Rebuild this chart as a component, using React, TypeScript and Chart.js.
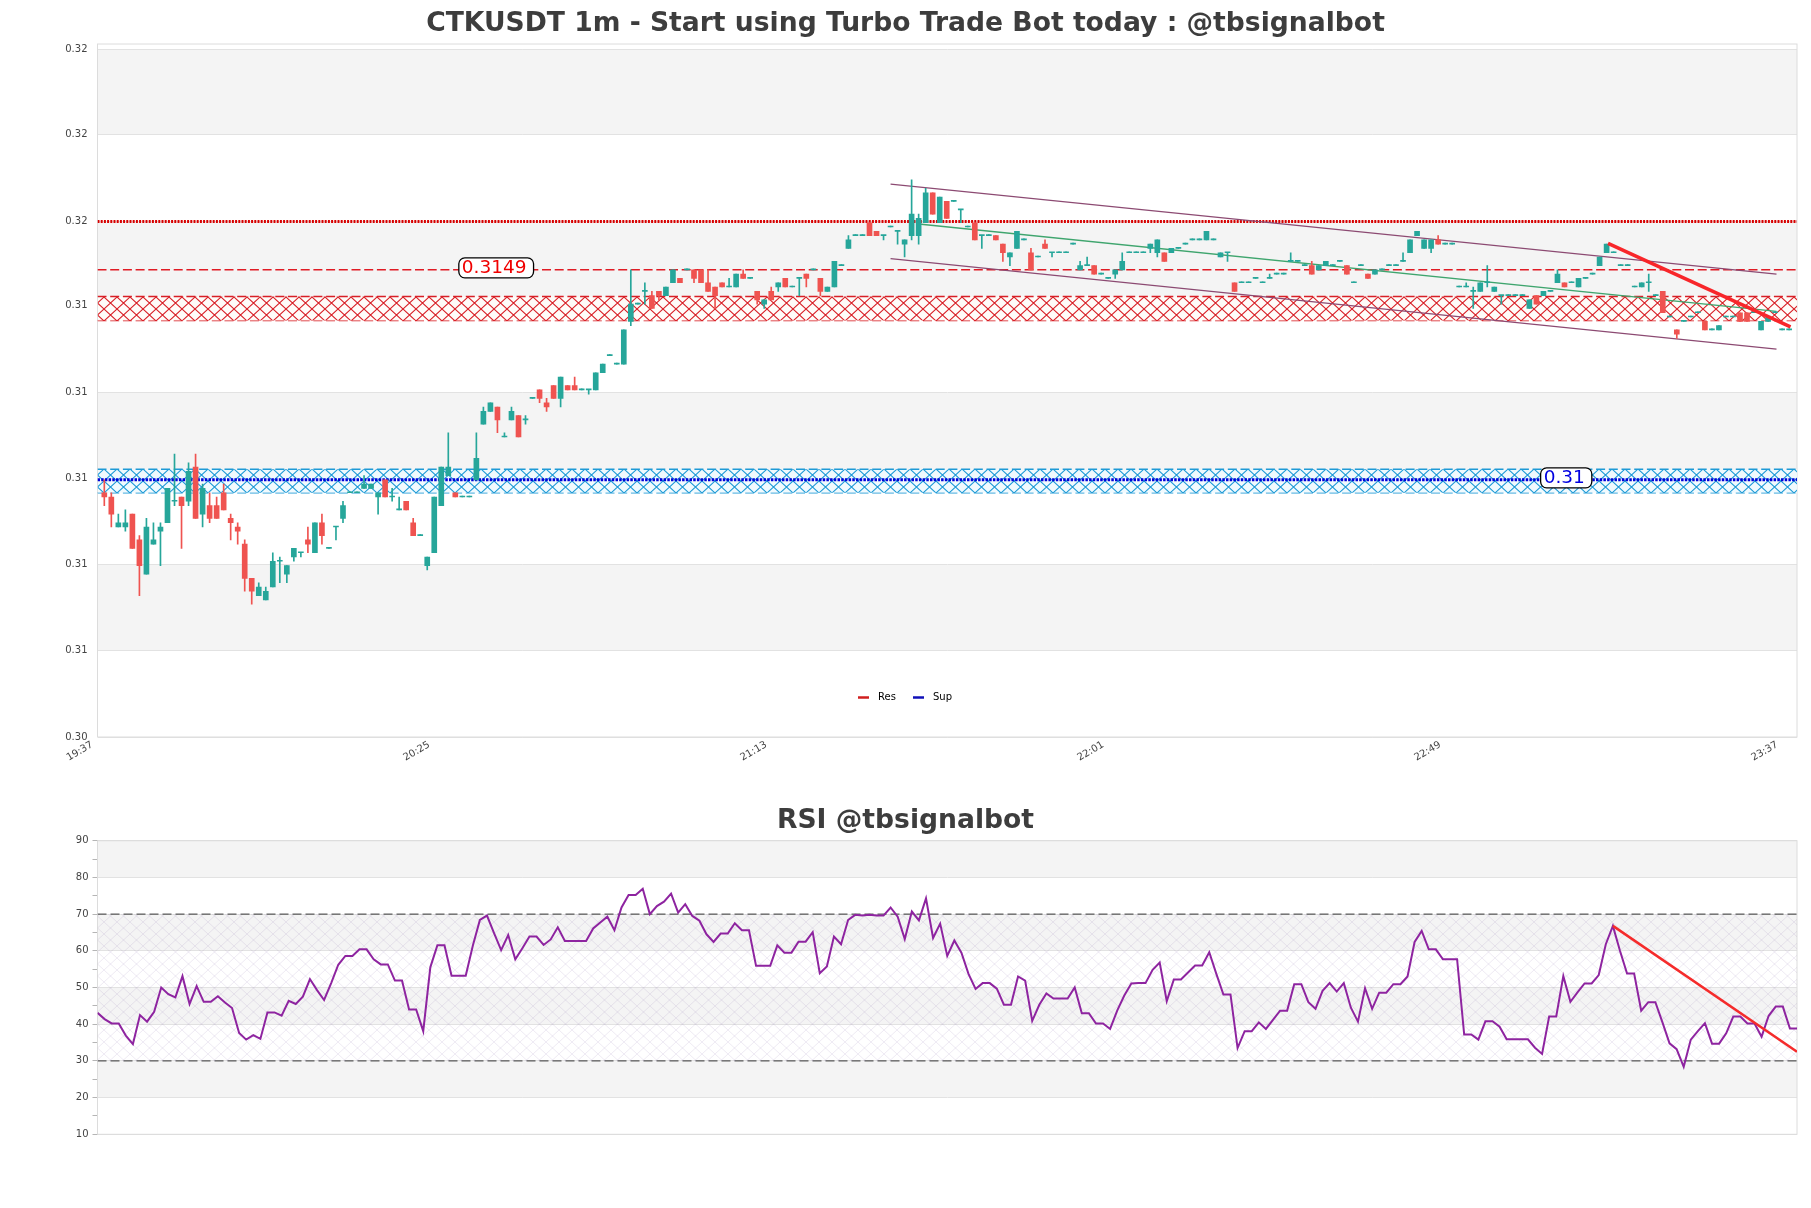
import { useEffect, useRef } from "react"
import { Chart, registerables } from "chart.js"

Chart.register(...registerables)

const FONT = "'DejaVu Sans', sans-serif"
const UP = "#26a69a"
const DOWN = "#ef5350"

const timeLabels = ["19:37", "20:25", "21:13", "22:01", "22:49", "23:37"]
const timeTicks = [0, 48, 96, 144, 192, 240]
// tick values only show 2 decimals on the picture, these are estimated
const priceTicks = [0.304, 0.30601, 0.30802, 0.31003, 0.31203, 0.31406, 0.31604, 0.31805, 0.32005]
const priceBands = [[0.30601, 0.30802], [0.31003, 0.31203], [0.31406, 0.31604], [0.31805, 0.32005]]
const rsiTicks = [10, 15, 20, 25, 30, 35, 40, 45, 50, 55, 60, 65, 70, 75, 80, 85, 90]
const rsiBands = [[20, 30], [40, 50], [60, 70], [80, 90]]

const candleOpen = [
  .3097, .3096, .3089, .3089, .3092, .3086, .3078, .3085, .3088, .3090,
  .3095, .3096, .3095, .3103, .3092, .3094, .3094, .3097, .3091, .3089,
  .3085, .3077, .3073, .3072, .3075, .3081, .3078, .3082, .3083, .3086,
  .3083, .3090, .3084, .3089, .3091, .3097, .3097, .3098, .3098, .3096,
  .3100, .3096, .3093, .3095, .3090, .3087, .3080, .3083, .3094, .3101,
  .3097, .3096, .3096, .3100, .3113, .3116, .3117, .3110, .3114, .3115,
  .3114, .3119, .3121, .3118, .3122, .3119, .3122, .3122, .3121, .3121,
  .3121, .3125, .3129, .3127, .3127, .3137, .3141, .3144, .3143, .3144,
  .3143, .3146, .3147, .3149, .3149, .3149, .3146, .3145, .3146, .3145,
  .3145, .3148, .3147, .3144, .3141, .3144, .3145, .3147, .3145, .3147,
  .3148, .3149, .3147, .3144, .3145, .3150, .3154, .3157, .3157, .3160,
  .3158, .3157, .3159, .3158, .3155, .3157, .3157, .3160, .3167, .3160,
  .3165, .3165, .3163, .3159, .3160, .3157, .3157, .3157, .3155, .3152,
  .3154, .3156, .3153, .3152, .3155, .3153, .3153, .3153, .3155, .3149,
  .3150, .3150, .3148, .3147, .3148, .3149, .3153, .3153, .3153, .3154,
  .3153, .3153, .3153, .3154, .3155, .3156, .3156, .3156, .3156, .3152,
  .3153, .3146, .3146, .3146, .3147, .3146, .3147, .3148, .3148, .3151,
  .3151, .3150, .3150, .3149, .3150, .3150, .3151, .3150, .3146, .3150,
  .3148, .3148, .3149, .3150, .3150, .3151, .3153, .3157, .3154, .3154,
  .3156, .3155, .3155, .3145, .3145, .3144, .3144, .3146, .3144, .3143,
  .3143, .3143, .3143, .3140, .3143, .3143, .3144, .3146, .3146, .3146,
  .3145, .3147, .3148, .3150, .3153, .3153, .3150, .3150, .3145, .3145,
  .3146, .3143, .3144, .3138, .3135, .3137, .3138, .3139, .3137, .3135,
  .3135, .3138, .3138, .3139, .3139, .3139, .3135, .3137, .3139, .3135,
  .3135,
]

const candleHigh = [
  .3100, .3097, .3092, .3093, .3092, .3087, .3091, .3090, .3090, .3098,
  .3106, .3096, .3104, .3106, .3099, .3097, .3096, .3099, .3092, .3090,
  .3086, .3077, .3076, .3075, .3083, .3082, .3080, .3084, .3083, .3089,
  .3090, .3092, .3084, .3089, .3095, .3097, .3097, .3101, .3099, .3097,
  .3100, .3098, .3096, .3095, .3091, .3087, .3082, .3096, .3103, .3111,
  .3097, .3096, .3096, .3111, .3117, .3118, .3117, .3111, .3117, .3115,
  .3115, .3119, .3121, .3119, .3122, .3124, .3122, .3124, .3121, .3121,
  .3125, .3127, .3129, .3127, .3135, .3149, .3141, .3146, .3144, .3144,
  .3145, .3149, .3147, .3149, .3149, .3149, .3149, .3145, .3146, .3147,
  .3148, .3149, .3147, .3144, .3142, .3145, .3146, .3147, .3145, .3147,
  .3148, .3149, .3147, .3145, .3151, .3150, .3157, .3157, .3157, .3160,
  .3158, .3157, .3159, .3158, .3156, .3170, .3162, .3168, .3167, .3166,
  .3165, .3165, .3163, .3159, .3160, .3157, .3157, .3157, .3155, .3153,
  .3158, .3156, .3154, .3152, .3156, .3153, .3153, .3153, .3155, .3151,
  .3152, .3150, .3148, .3147, .3149, .3153, .3153, .3153, .3153, .3155,
  .3156, .3153, .3154, .3154, .3155, .3156, .3156, .3158, .3156, .3153,
  .3153, .3146, .3146, .3146, .3147, .3146, .3148, .3148, .3148, .3153,
  .3151, .3150, .3151, .3150, .3151, .3150, .3151, .3150, .3146, .3150,
  .3148, .3149, .3149, .3150, .3150, .3153, .3156, .3158, .3156, .3156,
  .3157, .3155, .3155, .3145, .3146, .3145, .3146, .3150, .3145, .3143,
  .3143, .3143, .3143, .3142, .3143, .3144, .3144, .3149, .3146, .3146,
  .3147, .3147, .3148, .3152, .3155, .3153, .3150, .3150, .3145, .3146,
  .3148, .3143, .3144, .3138, .3135, .3137, .3138, .3139, .3137, .3135,
  .3136, .3138, .3138, .3139, .3139, .3139, .3137, .3138, .3139, .3135,
  .3135,
]

const candleLow = [
  .3094, .3089, .3089, .3088, .3084, .3073, .3078, .3085, .3080, .3090,
  .3094, .3084, .3094, .3091, .3089, .3090, .3091, .3093, .3086, .3085,
  .3074, .3071, .3073, .3072, .3075, .3076, .3076, .3081, .3082, .3083,
  .3083, .3085, .3084, .3086, .3090, .3097, .3097, .3098, .3098, .3092,
  .3096, .3095, .3093, .3093, .3087, .3087, .3079, .3083, .3094, .3101,
  .3096, .3096, .3096, .3100, .3113, .3116, .3111, .3110, .3114, .3110,
  .3113, .3119, .3118, .3116, .3119, .3117, .3121, .3121, .3121, .3120,
  .3121, .3125, .3129, .3127, .3127, .3136, .3141, .3141, .3140, .3142,
  .3143, .3146, .3146, .3149, .3146, .3146, .3144, .3140, .3145, .3145,
  .3145, .3147, .3147, .3141, .3140, .3142, .3144, .3145, .3145, .3143,
  .3145, .3149, .3143, .3144, .3145, .3150, .3154, .3157, .3157, .3157,
  .3157, .3156, .3159, .3155, .3152, .3156, .3155, .3160, .3162, .3160,
  .3161, .3165, .3160, .3159, .3156, .3154, .3157, .3156, .3151, .3150,
  .3154, .3156, .3149, .3152, .3154, .3152, .3153, .3153, .3155, .3149,
  .3150, .3148, .3148, .3147, .3147, .3149, .3153, .3153, .3153, .3153,
  .3152, .3151, .3153, .3154, .3155, .3156, .3156, .3156, .3156, .3152,
  .3151, .3144, .3146, .3146, .3147, .3146, .3147, .3148, .3148, .3151,
  .3151, .3150, .3148, .3149, .3150, .3150, .3151, .3148, .3146, .3150,
  .3147, .3148, .3149, .3150, .3150, .3151, .3153, .3157, .3154, .3153,
  .3155, .3155, .3155, .3145, .3145, .3140, .3144, .3145, .3144, .3141,
  .3143, .3143, .3143, .3140, .3141, .3143, .3144, .3146, .3145, .3146,
  .3145, .3147, .3148, .3150, .3153, .3153, .3150, .3150, .3145, .3145,
  .3144, .3143, .3139, .3138, .3133, .3137, .3138, .3139, .3135, .3135,
  .3135, .3138, .3138, .3137, .3137, .3139, .3135, .3137, .3139, .3135,
  .3135,
]

const candleClose = [
  .3096, .3092, .3090, .3090, .3084, .3080, .3089, .3086, .3089, .3098,
  .3095, .3094, .3102, .3091, .3098, .3091, .3091, .3093, .3090, .3088,
  .3077, .3074, .3075, .3074, .3081, .3081, .3080, .3084, .3083, .3085,
  .3090, .3087, .3084, .3089, .3094, .3097, .3097, .3099, .3099, .3097,
  .3096, .3096, .3093, .3093, .3087, .3087, .3082, .3096, .3103, .3103,
  .3096, .3096, .3096, .3105, .3116, .3118, .3114, .3110, .3116, .3110,
  .3114, .3119, .3119, .3117, .3119, .3124, .3121, .3121, .3121, .3121,
  .3125, .3127, .3129, .3127, .3135, .3141, .3141, .3144, .3140, .3143,
  .3145, .3149, .3146, .3149, .3147, .3146, .3144, .3143, .3145, .3145,
  .3148, .3147, .3147, .3142, .3142, .3142, .3146, .3145, .3145, .3147,
  .3147, .3149, .3144, .3145, .3151, .3150, .3156, .3157, .3157, .3157,
  .3157, .3157, .3159, .3158, .3156, .3162, .3161, .3167, .3162, .3166,
  .3161, .3165, .3163, .3159, .3156, .3157, .3157, .3156, .3153, .3153,
  .3158, .3156, .3149, .3152, .3154, .3153, .3153, .3153, .3155, .3150,
  .3150, .3148, .3148, .3147, .3149, .3151, .3153, .3153, .3153, .3155,
  .3156, .3151, .3154, .3154, .3155, .3156, .3156, .3158, .3156, .3153,
  .3153, .3144, .3146, .3146, .3147, .3146, .3147, .3148, .3148, .3151,
  .3151, .3150, .3148, .3150, .3151, .3150, .3151, .3148, .3146, .3150,
  .3147, .3149, .3149, .3150, .3150, .3151, .3156, .3158, .3156, .3156,
  .3155, .3155, .3155, .3145, .3145, .3144, .3146, .3146, .3145, .3143,
  .3143, .3143, .3143, .3142, .3141, .3144, .3144, .3148, .3145, .3146,
  .3147, .3147, .3148, .3152, .3155, .3153, .3150, .3150, .3145, .3146,
  .3146, .3143, .3139, .3138, .3134, .3137, .3138, .3139, .3135, .3135,
  .3136, .3138, .3138, .3137, .3137, .3139, .3137, .3138, .3139, .3135,
  .3135,
]

const rsiValues = [
  43.1, 41.4, 40.2, 40.2, 36.9, 34.6, 42.5, 40.7, 43.4, 50.0,
  48.2, 47.3, 53.1, 45.5, 50.4, 46.1, 46.1, 47.6, 45.9, 44.4,
  37.6, 35.8, 37.0, 36.0, 43.2, 43.2, 42.3, 46.4, 45.5, 47.5,
  52.3, 49.3, 46.6, 51.2, 56.2, 58.6, 58.6, 60.4, 60.4, 57.7,
  56.3, 56.3, 51.9, 51.9, 44.0, 44.0, 38.1, 55.5, 61.5, 61.5,
  53.2, 53.2, 53.2, 61.4, 68.4, 69.6, 64.8, 60.2, 64.3, 57.7,
  60.7, 63.9, 63.9, 61.6, 63.1, 66.4, 62.7, 62.7, 62.7, 62.7,
  66.1, 67.7, 69.3, 65.6, 71.8, 75.2, 75.2, 76.9, 70.0, 72.2,
  73.4, 75.6, 70.4, 72.7, 69.5, 68.2, 64.5, 62.4, 64.7, 64.7,
  67.5, 65.6, 65.6, 55.9, 55.9, 55.9, 61.5, 59.5, 59.5, 62.5,
  62.5, 65.1, 53.9, 55.7, 63.9, 61.8, 68.4, 69.8, 69.6, 69.8,
  69.6, 69.6, 71.8, 69.3, 63.2, 70.7, 68.3, 74.3, 63.5, 67.4,
  58.6, 62.8, 59.5, 53.7, 49.6, 51.2, 51.2, 49.7, 45.3, 45.3,
  53.0, 51.9, 40.9, 45.3, 48.4, 47.0, 47.0, 47.0, 50.0, 43.0,
  43.0, 40.2, 40.2, 38.7, 43.7, 47.8, 51.1, 51.2, 51.2, 54.8,
  56.8, 46.3, 52.2, 52.2, 54.1, 56.0, 56.0, 59.6, 53.7, 48.1,
  48.1, 33.5, 38.1, 38.1, 40.5, 38.7, 41.2, 43.7, 43.7, 50.9,
  50.9, 46.0, 44.2, 49.1, 51.2, 48.9, 51.2, 44.5, 40.7, 49.8,
  44.2, 48.6, 48.6, 50.9, 50.9, 53.0, 62.4, 65.4, 60.4, 60.4,
  57.7, 57.7, 57.7, 37.2, 37.2, 35.8, 40.8, 40.8, 39.3, 35.9,
  35.9, 35.9, 35.9, 33.6, 31.9, 42.1, 42.1, 53.1, 46.1, 48.7,
  51.1, 51.1, 53.4, 61.8, 66.8, 60.0, 53.8, 53.8, 43.7, 46.0,
  46.0, 40.5, 34.8, 33.2, 28.4, 35.8, 38.1, 40.3, 34.7, 34.7,
  37.5, 42.1, 42.1, 40.2, 40.2, 36.6, 42.3, 44.8, 44.8, 38.8,
  38.8,
]

// horizontal levels
const resistanceLevel = 0.3149
const resistanceTop = 0.31603
const resistanceZone = [0.31428, 0.31372]
const supportLevel = 0.31
const supportZone = [0.31025, 0.3097]

// trend lines as [candle index, price]
const channelUpper = [[112.0, 0.3169], [238.2, 0.3148]]
const channelLower = [[112.0, 0.31516], [238.2, 0.31305]]
const channelMiddle = [[116.0, 0.31597], [238.2, 0.31393]]
const priceTrend = [[214.2, 0.31552], [240.2, 0.31357]]
const rsiTrend = [[214, 66.8], [240, 32.5]]

const X_MIN = -0.97
const X_MAX = 241.12

function makeHatch(ctx: CanvasRenderingContext2D, stroke: string, bg: string, width: number, phaseY: number) {
  const tile = document.createElement("canvas")
  tile.width = 13
  tile.height = 12
  const t = tile.getContext("2d")!
  if (bg) {
    t.fillStyle = bg
    t.fillRect(0, 0, 13, 12)
  }
  t.strokeStyle = stroke
  t.lineWidth = width
  t.beginPath()
  t.moveTo(0, 0)
  t.lineTo(13, 12)
  t.moveTo(13, 0)
  t.lineTo(0, 12)
  t.stroke()
  const pattern = ctx.createPattern(tile, "repeat")!
  pattern.setTransform(new DOMMatrix([1, 0, 0, 1, 0, phaseY]))
  return pattern
}

function toPoints(line: number[][]) {
  return line.map(([x, y]) => ({ x, y }))
}

function level(y: number, xMin = X_MIN, xMax = X_MAX) {
  return [{ x: xMin, y }, { x: xMax, y }]
}

// striped background between grid lines
const bandsPlugin = (bands: number[][]) => ({
  id: "bands",
  beforeDraw(chart: any) {
    const { ctx, chartArea, scales } = chart
    ctx.save()
    ctx.fillStyle = "#f4f4f4"
    bands.forEach(([lo, hi]) => {
      const top = scales.y.getPixelForValue(hi)
      const bottom = scales.y.getPixelForValue(lo)
      ctx.fillRect(chartArea.left, top, chartArea.right - chartArea.left, bottom - top)
    })
    ctx.restore()
  },
  beforeDatasetsDraw(chart: any) {
    const { ctx, chartArea } = chart
    ctx.save()
    ctx.strokeStyle = "#dcdcdc"
    ctx.lineWidth = 1
    ctx.strokeRect(chartArea.left, chartArea.top, chartArea.right - chartArea.left, chartArea.bottom - chartArea.top)
    ctx.restore()
  },
})

function drawPill(chart: any, text: string, color: string, index: number, price: number) {
  const { ctx, scales } = chart
  const x = scales.x.getPixelForValue(index)
  const y = scales.y.getPixelForValue(price) - 2
  ctx.save()
  ctx.font = `18.5px ${FONT}`
  const w = ctx.measureText(text).width + 10
  ctx.beginPath()
  ctx.roundRect(x, y - 10, w, 20, 6)
  ctx.fillStyle = "#fff"
  ctx.fill()
  ctx.strokeStyle = "#000"
  ctx.lineWidth = 1.3
  ctx.stroke()
  ctx.fillStyle = color
  ctx.textBaseline = "middle"
  ctx.fillText(text, x + 3, y + 0.5)
  ctx.restore()
}

const overlayPlugin = {
  id: "overlay",
  afterDraw(chart: any) {
    const { ctx } = chart
    drawPill(chart, "0.3149", "#f00000", 50.5, resistanceLevel)
    drawPill(chart, "0.31", "#0000e0", 204.6, supportLevel)
    // legend sits inside the plot, near the bottom
    ctx.save()
    ctx.lineWidth = 2.5
    ctx.strokeStyle = "#d01f1f"
    ctx.beginPath()
    ctx.moveTo(858, 697.5)
    ctx.lineTo(869, 697.5)
    ctx.stroke()
    ctx.strokeStyle = "#1010b8"
    ctx.beginPath()
    ctx.moveTo(913, 697.5)
    ctx.lineTo(924, 697.5)
    ctx.stroke()
    ctx.fillStyle = "#000"
    ctx.font = `10px ${FONT}`
    ctx.textBaseline = "middle"
    ctx.fillText("Res", 878, 697)
    ctx.fillText("Sup", 933, 697)
    ctx.restore()
  },
}

function PriceChart() {
  const ref = useRef<HTMLCanvasElement>(null)

  useEffect(() => {
    if (!ref.current) return
    const ctx = ref.current.getContext("2d")
    if (!ctx) return

    const redHatch = makeHatch(ctx, "#d81f26", "rgba(255,252,248,0.9)", 1.1, 9)
    const blueHatch = makeHatch(ctx, "#1e9ad6", "rgba(240,250,254,0.9)", 1.1, 1)
    const colors = candleOpen.map((o, i) => (candleClose[i] >= o ? UP : DOWN))

    const chart = new Chart(ctx, {
      type: "bar",
      data: {
        datasets: [
          {
            label: "body",
            data: candleOpen.map((o, i) => ({ x: i, y: [o, candleClose[i]] })),
            backgroundColor: colors,
            barThickness: 5,
            minBarLength: 1,
            grouped: false,
            order: 2,
          },
          {
            label: "wick",
            data: candleLow.map((l, i) => ({ x: i, y: [l, candleHigh[i]] })),
            backgroundColor: colors,
            barThickness: 1,
            minBarLength: 1,
            grouped: false,
            order: 3,
          },
          {
            type: "line",
            label: "Trend",
            data: toPoints(priceTrend),
            borderColor: "#f8262a",
            borderWidth: 3.5,
            pointRadius: 0,
            order: 1,
          },
          {
            type: "line",
            label: "Channel up",
            data: toPoints(channelUpper),
            borderColor: "#8c4a72",
            borderWidth: 1.3,
            pointRadius: 0,
            order: 4,
          },
          {
            type: "line",
            label: "Channel down",
            data: toPoints(channelLower),
            borderColor: "#8c4a72",
            borderWidth: 1.3,
            pointRadius: 0,
            order: 4,
          },
          {
            type: "line",
            label: "Channel mid",
            data: toPoints(channelMiddle),
            borderColor: "#3fa56e",
            borderWidth: 1.3,
            pointRadius: 0,
            order: 4,
          },
          {
            type: "line",
            label: "Res",
            data: level(resistanceLevel),
            borderColor: "#e01b24",
            borderWidth: 1.5,
            borderDash: [9, 3.7],
            pointRadius: 0,
            order: 5,
          },
          {
            type: "line",
            label: "Res top",
            data: level(resistanceTop),
            borderColor: "#d80000",
            borderWidth: 3,
            borderDash: [2, 1.2],
            pointRadius: 0,
            order: 5,
          },
          {
            type: "line",
            label: "Sup",
            data: level(supportLevel),
            borderColor: "#0000d8",
            borderWidth: 3,
            borderDash: [2.5, 1.2],
            pointRadius: 0,
            order: 5,
          },
          {
            type: "line",
            label: "Res zone",
            data: level(resistanceZone[0]),
            borderColor: "#d81f26",
            borderWidth: 1.5,
            borderDash: [9, 3.7],
            backgroundColor: redHatch,
            fill: { value: resistanceZone[1] },
            pointRadius: 0,
            order: 6,
          },
          {
            type: "line",
            label: "Res zone low",
            data: level(resistanceZone[1]),
            borderColor: "#d81f26",
            borderWidth: 1.5,
            borderDash: [9, 3.7],
            pointRadius: 0,
            order: 6,
          },
          {
            type: "line",
            label: "Sup zone",
            data: level(supportZone[0]),
            borderColor: "#1e9ad6",
            borderWidth: 1.5,
            borderDash: [9, 3.7],
            backgroundColor: blueHatch,
            fill: { value: supportZone[1] },
            pointRadius: 0,
            order: 6,
          },
          {
            type: "line",
            label: "Sup zone low",
            data: level(supportZone[1]),
            borderColor: "#1e9ad6",
            borderWidth: 1.5,
            borderDash: [9, 3.7],
            pointRadius: 0,
            order: 6,
          },
        ] as any,
      },
      options: {
        animation: false,
        responsive: false,
        events: [],
        layout: { padding: { left: 14, right: 14 } },
        plugins: {
          legend: { display: false },
          tooltip: { enabled: false },
          title: {
            display: true,
            text: "CTKUSDT 1m - Start using Turbo Trade Bot today : @tbsignalbot",
            color: "#3d3d3d",
            font: { family: FONT, size: 26.6, weight: "bold" },
            padding: { top: 8.3, bottom: 3.8 },
          },
        },
        scales: {
          x: {
            type: "linear",
            offset: false,
            min: X_MIN,
            max: X_MAX,
            border: { display: false },
            grid: { display: false, offset: false },
            afterBuildTicks: (scale: any) => {
              scale.ticks = timeTicks.map((value) => ({ value }))
            },
            afterFit: (scale: any) => {
              scale.height = 53
            },
            ticks: {
              autoSkip: false,
              minRotation: 30,
              maxRotation: 30,
              labelOffset: -12,
              padding: -6,
              color: "#444",
              font: { family: FONT, size: 10 },
              callback: (value: any) => timeLabels[timeTicks.indexOf(value)],
            },
          },
          y: {
            min: 0.304,
            max: 0.32017,
            border: { display: false },
            grid: { color: "#e2e2e2", drawTicks: false },
            afterBuildTicks: (scale: any) => {
              scale.ticks = priceTicks.map((value) => ({ value }))
            },
            afterFit: (scale: any) => {
              scale.width = 83.5
            },
            ticks: {
              autoSkip: false,
              padding: 10,
              color: "#444",
              font: { family: FONT, size: 10 },
              callback: (value: any) => Number(value).toFixed(2),
            },
          },
        },
      },
      plugins: [bandsPlugin(priceBands), overlayPlugin],
    } as any)

    return () => chart.destroy()
  }, [])

  return <canvas ref={ref} width={1811} height={790} style={{ display: "block" }} />
}

function RsiChart() {
  const ref = useRef<HTMLCanvasElement>(null)

  useEffect(() => {
    if (!ref.current) return
    const ctx = ref.current.getContext("2d")
    if (!ctx) return

    const hatch = makeHatch(ctx, "rgba(130,95,165,0.17)", "", 0.8, 0)

    const chart = new Chart(ctx, {
      type: "line",
      data: {
        datasets: [
          {
            label: "RSI",
            data: rsiValues.map((y, x) => ({ x, y })),
            borderColor: "#8e24a0",
            borderWidth: 2,
            pointRadius: 0,
            order: 2,
          },
          {
            label: "RSI trend",
            data: toPoints(rsiTrend),
            borderColor: "#f52b2b",
            borderWidth: 2.5,
            pointRadius: 0,
            order: 1,
          },
          {
            label: "Overbought",
            data: level(70, 0, 240),
            borderColor: "#333",
            borderWidth: 1,
            borderDash: [9, 4],
            backgroundColor: hatch,
            fill: { value: 30 },
            pointRadius: 0,
            order: 3,
          },
          {
            label: "Oversold",
            data: level(30, 0, 240),
            borderColor: "#333",
            borderWidth: 1,
            borderDash: [9, 4],
            pointRadius: 0,
            order: 3,
          },
        ] as any,
      },
      options: {
        animation: false,
        responsive: false,
        events: [],
        layout: { padding: { left: 14, right: 14, bottom: 73.7 } },
        plugins: {
          legend: { display: false },
          tooltip: { enabled: false },
          title: {
            display: true,
            text: "RSI @tbsignalbot",
            color: "#3d3d3d",
            font: { family: FONT, size: 26.6, weight: "bold" },
            padding: { top: 15, bottom: 3.8 },
          },
        },
        scales: {
          x: { type: "linear", min: 0, max: 240, display: false },
          y: {
            min: 10,
            max: 90,
            border: { display: false },
            grid: {
              color: (c: any) => (c.tick && c.tick.value % 10 === 0 ? "#e2e2e2" : "rgba(0,0,0,0)"),
              tickColor: "#b5b5b5",
              tickLength: 5,
            },
            afterBuildTicks: (scale: any) => {
              scale.ticks = rsiTicks.map((value) => ({ value }))
            },
            afterFit: (scale: any) => {
              scale.width = 83.5
            },
            ticks: {
              autoSkip: false,
              padding: 4,
              color: "#444",
              font: { family: FONT, size: 10 },
              callback: (value: any) => (value % 10 === 0 ? String(value) : ""),
            },
          },
        },
      },
      plugins: [bandsPlugin(rsiBands)],
    } as any)

    return () => chart.destroy()
  }, [])

  return <canvas ref={ref} width={1811} height={418} style={{ display: "block" }} />
}

export default function App() {
  return (
    <div style={{ position: "absolute", left: 0, top: 0, width: 1811, height: 1208, background: "#fff" }}>
      <PriceChart />
      <RsiChart />
    </div>
  )
}
